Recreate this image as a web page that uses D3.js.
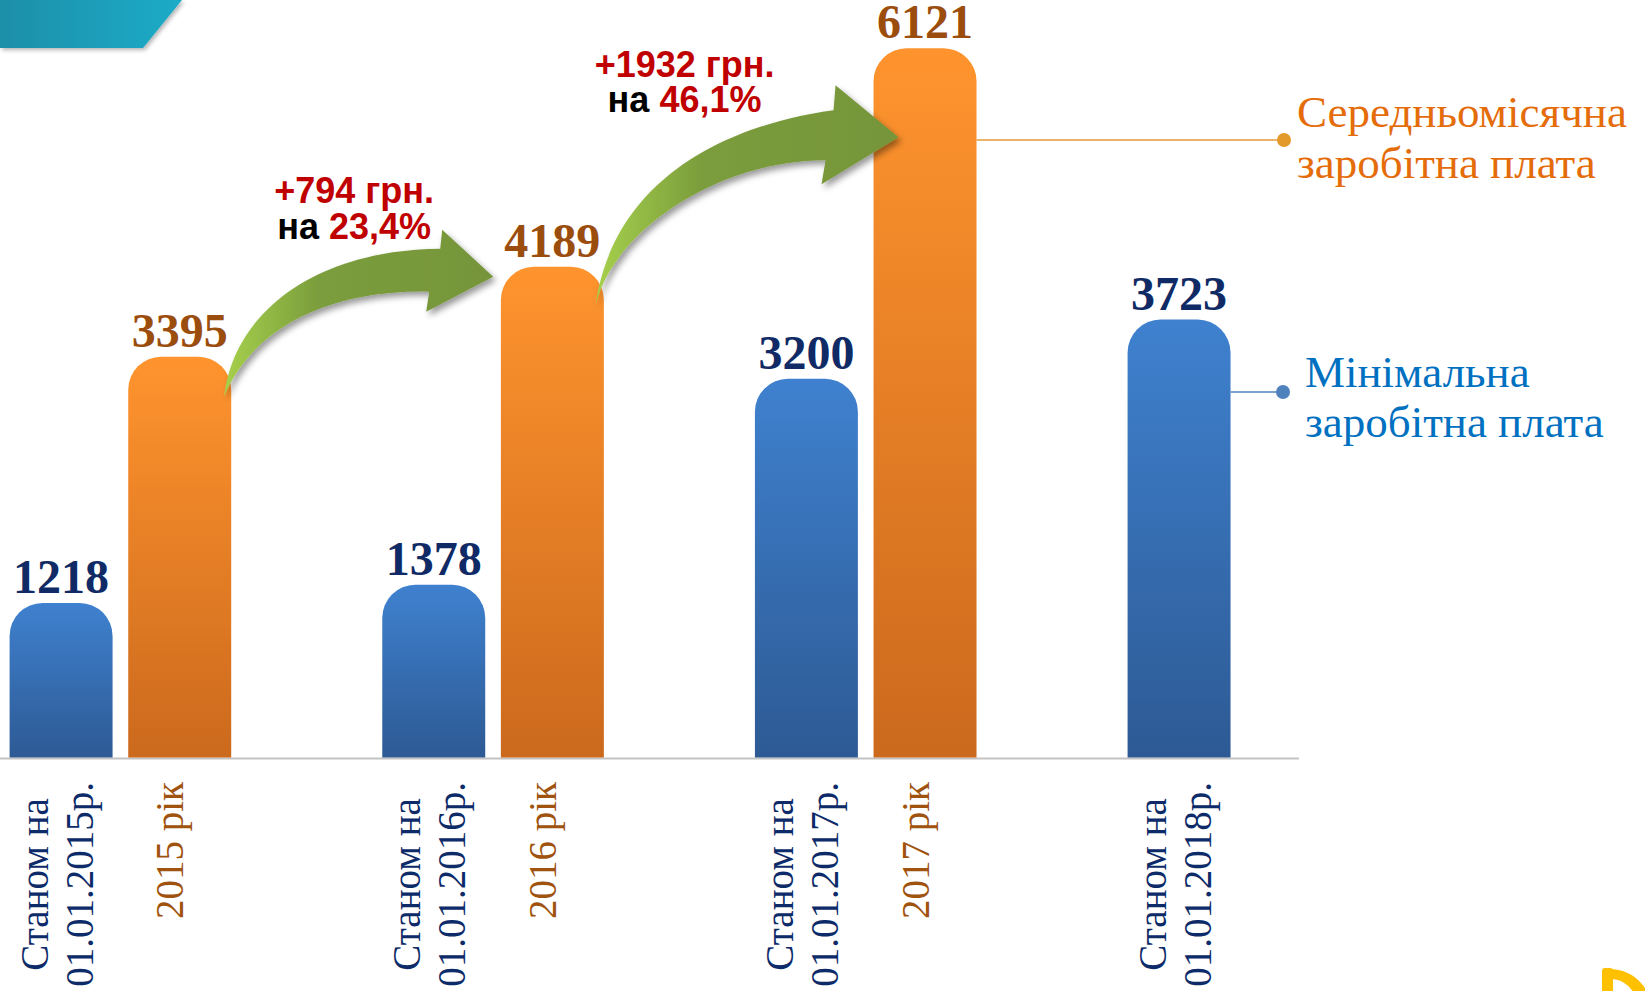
<!DOCTYPE html>
<html>
<head>
<meta charset="utf-8">
<script src="https://cdn.jsdelivr.net/npm/d3@7"></script>
<style>
  html, body { margin: 0; padding: 0; background: #ffffff; }
  svg { display: block; }
</style>
</head>
<body>
<svg id="chart" width="1645" height="991"></svg>
<script>
// ---------------- DATA ----------------
const groups = ["2015", "2016", "2017", "2018"];
const minWageLabels = [
  ["Станом на", "01.01.2015р."],
  ["Станом на", "01.01.2016р."],
  ["Станом на", "01.01.2017р."],
  ["Станом на", "01.01.2018р."]
];
const minWage = [1218, 1378, 3200, 3723];
const avgWageLabels = ["2015 рік", "2016 рік", "2017 рік"];
const avgWage = [3395, 4189, 6121];
const seriesNames = [["Середньомісячна", "заробітна плата"], ["Мінімальна", "заробітна плата"]];

// ---------------- SETUP ----------------
const svg = d3.select("#chart");

const xGroup = d3.scaleBand().domain(groups).range([9.6, 9.6 + 4 * 372.66]).paddingInner(0).paddingOuter(0);
const xSeries = d3.scaleBand().domain(["min", "avg"]).range([0, 221.6]).paddingInner(0.132);
const y = d3.scaleLinear().domain([-148, 6300]).range([757.5, 28]);
const base = y.range()[0];
const bw = xSeries.bandwidth();

const bars = [];
minWage.forEach((v, i) => bars.push({ s: "min", g: groups[i], v, label: minWageLabels[i] }));
avgWage.forEach((v, i) => bars.push({ s: "avg", g: groups[i], v, label: [avgWageLabels[i]] }));
const barX = d => xGroup(d.g) + xSeries(d.s);

const defs = svg.append("defs");
function vGrad(id, top, bottom) {
  const g = defs.append("linearGradient").attr("id", id).attr("x1", 0).attr("y1", 0).attr("x2", 0).attr("y2", 1);
  g.append("stop").attr("offset", 0).attr("stop-color", top);
  g.append("stop").attr("offset", 1).attr("stop-color", bottom);
}
vGrad("gBlue", "#3f81cf", "#2d5a94");
vGrad("gOrange", "#ff942e", "#cb691d");

const teal = defs.append("linearGradient").attr("id", "gTeal").attr("x1", 0).attr("y1", 0).attr("x2", 1).attr("y2", 0);
teal.append("stop").attr("offset", 0).attr("stop-color", "#1a8fa9");
teal.append("stop").attr("offset", 1).attr("stop-color", "#1cabc7");

const sh = defs.append("filter").attr("id", "shadow").attr("x", "-20%").attr("y", "-20%").attr("width", "150%").attr("height", "150%");
sh.append("feDropShadow").attr("dx", 3).attr("dy", 4).attr("stdDeviation", 3).attr("flood-color", "#000").attr("flood-opacity", 0.4);

const tshadow = defs.append("filter").attr("id", "tshadow").attr("x", "-20%").attr("y", "-20%").attr("width", "150%").attr("height", "150%");
tshadow.append("feDropShadow").attr("dx", 2).attr("dy", 2).attr("stdDeviation", 2).attr("flood-color", "#000").attr("flood-opacity", 0.3);

// ---------------- Top-left decoration ----------------
svg.append("path").attr("d", "M0,0 H182 L143,48 H0 Z").attr("fill", "url(#gTeal)").attr("filter", "url(#tshadow)");

// ---------------- Axis baseline ----------------
svg.append("line").attr("x1", 0).attr("x2", 1299).attr("y1", base + 1).attr("y2", base + 1)
  .attr("stroke", "#c3c3c3").attr("stroke-width", 2);

// ---------------- Bars ----------------
const r = 33;
function barPath(d) {
  const x = barX(d), yt = y(d.v);
  return `M${x},${base} V${yt + r} A${r},${r} 0 0 1 ${x + r},${yt} H${x + bw - r} A${r},${r} 0 0 1 ${x + bw},${yt + r} V${base} Z`;
}
svg.append("g").selectAll("path").data(bars).join("path")
  .attr("d", barPath)
  .attr("fill", d => d.s === "min" ? "url(#gBlue)" : "url(#gOrange)");

// ---------------- Value labels ----------------
svg.append("g").selectAll("text").data(bars).join("text")
  .attr("x", d => barX(d) + bw / 2)
  .attr("y", d => y(d.v) - 10)
  .attr("text-anchor", "middle")
  .attr("font-family", "'Liberation Serif', 'Times New Roman', serif")
  .attr("font-weight", "bold")
  .attr("font-size", 48)
  .attr("fill", d => d.s === "min" ? "#0f2a64" : "#9b4d0d")
  .text(d => d.v);

// ---------------- Category labels (rotated) ----------------
const labelTop = 782;
bars.forEach(d => {
  const cx = barX(d) + bw / 2;
  const color = d.s === "min" ? "#0d2b69" : "#a0530f";
  const g = svg.append("g");
  const texts = d.label.map((line, i) => {
    const n = d.label.length;
    const off = n === 1 ? -10 : (i === 0 ? -27 : 18);
    return g.append("text")
      .attr("font-family", "'Liberation Serif', 'Times New Roman', serif")
      .attr("font-size", 39)
      .attr("fill", color)
      .attr("text-anchor", "middle")
      .attr("dominant-baseline", "central")
      .attr("data-off", off)
      .text(line);
  });
  const maxW = d3.max(texts, t => t.node().getComputedTextLength());
  const cy = labelTop + maxW / 2;
  texts.forEach(t => {
    const off = +t.attr("data-off");
    t.attr("transform", `translate(${cx + off},${cy}) rotate(-90)`);
  });
});

// ---------------- Growth arrows ----------------
const fmtPct = v => d3.format(".1f")(v).replace(".", ",");
// anchor: "from" = right/top corner of the earlier bar, "to" = left/top corner of the later bar
const arrowShapes = [
  { anchor: "from", tail: [-7, 40], t1: [3, -47], t2: [88, -107], a1: [209, -108], up: [211, -127], tip: [262, -80], low: [195, -45], b1: [198, -65], b2: [88, -67], b3: [18, -22], text: [123, -154, -118] },
  { anchor: "to", tail: [-278, 257], t1: [-260, 132], t2: [-150, 77], a1: [-40, 62], up: [-38, 37], tip: [25, 89], low: [-52, 136], b1: [-48, 112], b2: [-155, 112], b3: [-260, 182], text: [-189, 29, 64] }
];
arrowShapes.forEach((s, i) => {
  const from = { s: "avg", g: groups[i], v: avgWage[i] };
  const to = { s: "avg", g: groups[i + 1], v: avgWage[i + 1] };
  const ax = s.anchor === "from" ? barX(from) + bw : barX(to);
  const ay = s.anchor === "from" ? y(from.v) : y(to.v);
  const p = q => `${ax + q[0]},${ay + q[1]}`;
  const gid = "gArrow" + i;
  const lg = defs.append("linearGradient").attr("id", gid).attr("gradientUnits", "userSpaceOnUse")
    .attr("x1", ax + s.tail[0]).attr("y1", 0).attr("x2", ax + s.tip[0]).attr("y2", 0);
  lg.append("stop").attr("offset", 0).attr("stop-color", "#a6d04c");
  lg.append("stop").attr("offset", 0.35).attr("stop-color", "#7b9d3c");
  lg.append("stop").attr("offset", 1).attr("stop-color", "#76953a");
  const d = `M${p(s.tail)} C${p(s.t1)} ${p(s.t2)} ${p(s.a1)} L${p(s.up)} L${p(s.tip)} L${p(s.low)} L${p(s.b1)} C${p(s.b2)} ${p(s.b3)} ${p(s.tail)} Z`;
  svg.append("path").attr("d", d).attr("fill", `url(#${gid})`).attr("filter", "url(#shadow)");

  const diff = avgWage[i + 1] - avgWage[i];
  const pct = diff / avgWage[i] * 100;
  const tx = ax + s.text[0];
  svg.append("text").attr("x", tx).attr("y", ay + s.text[1])
    .attr("text-anchor", "middle")
    .attr("font-family", "'Liberation Sans', Arial, sans-serif").attr("font-weight", "bold").attr("font-size", 36)
    .attr("fill", "#c00000").text(`+${diff} грн.`);
  const t2 = svg.append("text").attr("x", tx).attr("y", ay + s.text[2])
    .attr("text-anchor", "middle")
    .attr("font-family", "'Liberation Sans', Arial, sans-serif").attr("font-weight", "bold").attr("font-size", 36);
  t2.append("tspan").attr("fill", "#000000").text("на ");
  t2.append("tspan").attr("fill", "#c00000").text(`${fmtPct(pct)}%`);
});

// ---------------- Legend (leader lines) ----------------
const lastAvg = { s: "avg", g: groups[avgWage.length - 1], v: avgWage[avgWage.length - 1] };
const lastMin = { s: "min", g: groups[minWage.length - 1], v: minWage[minWage.length - 1] };
const legends = [
  { x0: barX(lastAvg) + bw, y: 140, dotX: 1284, tx: 1297, b1: 127, b2: 178, line: "#e59a36", dot: "#e39a2b", text: "#e46c0a", names: seriesNames[0] },
  { x0: barX(lastMin) + bw, y: 392, dotX: 1283, tx: 1305, b1: 387, b2: 437, line: "#4f81bd", dot: "#4f81bd", text: "#0070c0", names: seriesNames[1] }
];
legends.forEach(l => {
  svg.append("line").attr("x1", l.x0).attr("x2", l.dotX).attr("y1", l.y).attr("y2", l.y)
    .attr("stroke", l.line).attr("stroke-width", 1.6);
  svg.append("circle").attr("cx", l.dotX).attr("cy", l.y).attr("r", 7).attr("fill", l.dot);
  [l.b1, l.b2].forEach((by, k) => {
    svg.append("text").attr("x", l.tx).attr("y", by)
      .attr("font-family", "'Liberation Serif', 'Times New Roman', serif")
      .attr("font-size", 45).attr("fill", l.text).text(l.names[k]);
  });
});

// ---------------- Bottom-right logo fragment ----------------
svg.append("rect").attr("x", 1602).attr("y", 968).attr("width", 11).attr("height", 30).attr("rx", 3).attr("fill", "#ffc000");
svg.append("path").attr("d", "M1612,969 Q1638,971 1650,997 L1636,997 Q1628,980 1612,979 Z").attr("fill", "#ffc000");
</script>
</body>
</html>
